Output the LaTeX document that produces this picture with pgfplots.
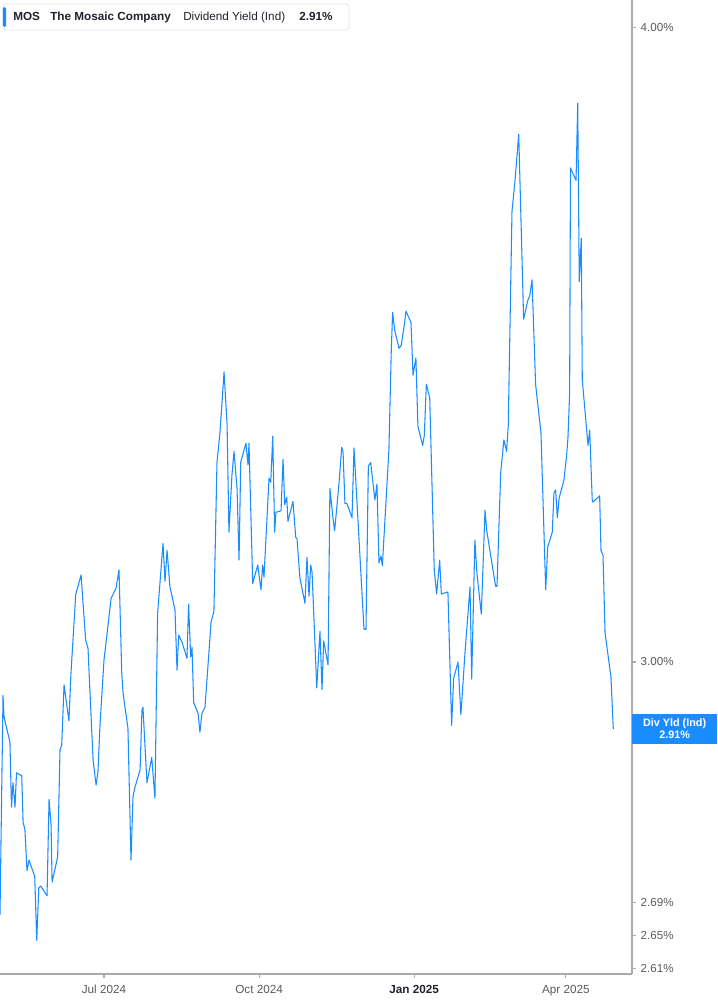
\documentclass[border=0pt]{standalone}
\usepackage{fontspec}
\setmainfont{Liberation Sans}
\usepackage{pgfplots}
\pgfplotsset{compat=1.18}
\definecolor{yld}{RGB}{25,140,255}
\definecolor{axgray}{RGB}{170,170,170}
\definecolor{lblgray}{RGB}{90,90,90}
\definecolor{txtdark}{RGB}{34,34,44}
\begin{document}
\begin{tikzpicture}
\path[use as bounding box] (0,-23.25pt) rectangle (537.75pt,730.5pt);
\begin{axis}[
  at={(0,0)}, anchor=south west,
  width=474pt, height=730.5pt, scale only axis,
  xmin=-61.7, xmax=313.2,
  ymode=log, ymin=2.604, ymax=4.051,
  axis x line*=bottom, axis y line*=right,
  axis line style={axgray, line width=0.9pt, -},
  xtick={0,92,184,274},
  xticklabels={Jul 2024, Oct 2024, \textbf{\color{txtdark}Jan 2025}, Apr 2025},
  ytick={2.61,2.65,2.69,3,4},
  yticklabels={2.61\%,2.65\%,2.69\%,3.00\%,4.00\%},
  yminorticks=false, xminorticks=false,
  tick align=outside, major tick length=3pt,
  tick style={axgray, line width=0.8pt},
  x tick label style={font=\fontsize{8.8}{10}\selectfont, text=lblgray, yshift=-2pt},
  y tick label style={font=\fontsize{8.7}{10}\selectfont, text=lblgray, anchor=west},
  clip=false,
]
% dividend yield (Ind), days from 1 Jul 2024
\addplot[yld, line width=0.8pt, line join=round] coordinates {
(-61.7,2.675) (-59.9,2.955) (-59.3,2.926) (-55.8,2.893) (-54.9,2.809)
(-54.0,2.840) (-52.8,2.809) (-51.9,2.853) (-48.8,2.849) (-48.0,2.790)
(-46.9,2.780) (-45.7,2.729) (-44.5,2.742) (-41.1,2.722) (-39.9,2.644)
(-38.7,2.708) (-37.5,2.710) (-33.8,2.698) (-32.6,2.819) (-31.4,2.786)
(-30.8,2.715) (-27.5,2.746) (-26.1,2.883) (-25.1,2.889) (-23.7,2.969)
(-20.8,2.921) (-19.6,2.985) (-16.8,3.093) (-13.6,3.121) (-10.9,3.030)
(-9.5,3.019) (-6.5,2.870) (-4.7,2.837) (-3.6,2.854) (-2.4,2.915)
(0,3.003) (2.4,3.051) (4.2,3.088) (7.1,3.102) (8.9,3.128)
(10.5,2.986) (11.3,2.958) (14.2,2.911) (16.0,2.742) (17.2,2.822)
(18.2,2.833) (21.4,2.857) (22.5,2.935) (23.1,2.939) (24.9,2.863)
(25.5,2.840) (28.3,2.873) (30.2,2.820) (31.8,3.067) (35.0,3.166)
(36.2,3.112) (37.4,3.156) (39.1,3.104) (42.1,3.072) (43.3,2.989)
(44.3,3.037) (46.3,3.027) (49.2,3.005) (50.2,3.080) (51.4,3.007)
(52.2,3.020) (53.2,2.945) (55.8,2.931) (56.9,2.906) (58.1,2.931)
(59.9,2.939) (61.7,2.996) (63.5,3.055) (65.2,3.070) (67.0,3.284)
(68.8,3.330) (71.2,3.422) (73.0,3.342) (74.1,3.182) (75.9,3.266)
(77.1,3.301) (78.9,3.246) (80.1,3.142) (81.1,3.285) (84.2,3.313)
(85.4,3.281) (86.0,3.313) (88.2,3.109) (91.2,3.135) (93.1,3.100)
(94.1,3.135) (94.9,3.118) (97.9,3.261) (98.9,3.255) (100.1,3.324)
(101.2,3.182) (102.0,3.211) (105.0,3.213) (106.2,3.289) (107.2,3.222)
(108.4,3.233) (109.1,3.198) (112.1,3.227) (113.7,3.175) (114.5,3.172)
(116.2,3.117) (119.2,3.081) (120.4,3.146) (121.6,3.091) (122.6,3.135)
(123.4,3.125) (126.2,2.965) (128.1,3.042) (129.3,2.963) (130.3,3.029)
(132.9,2.996) (134.0,3.246) (135.8,3.203) (136.8,3.184) (139.4,3.254)
(141.0,3.307) (141.8,3.300) (142.9,3.224) (144.1,3.224) (147.1,3.203)
(148.3,3.306) (154.2,3.045) (155.4,3.045) (156.8,3.279) (158.2,3.284)
(160.7,3.229) (161.9,3.252) (163.1,3.138) (164.3,3.148) (165.1,3.134)
(169.0,3.303) (170.4,3.456) (171.2,3.516) (172.4,3.488) (175.0,3.459)
(176.3,3.464) (178.3,3.499) (179.1,3.518) (182.1,3.500) (183.3,3.417)
(185.0,3.444) (186.2,3.339) (189.0,3.310) (190.0,3.325) (191.2,3.403)
(193.2,3.382) (195.9,3.128) (197.3,3.094) (199.1,3.142) (200.1,3.094)
(204.0,3.097) (206.2,2.915) (207.4,2.978) (210.0,3.000) (211.7,2.929)
(214.1,3.012) (217.1,3.104) (218.1,2.977) (220.0,3.171) (221.2,3.124)
(223.8,3.066) (226.0,3.214) (227.0,3.185) (228.3,3.165) (232.3,3.105)
(233.1,3.105) (235.3,3.269) (237.2,3.318) (238.8,3.301) (239.8,3.341)
(242.0,3.680) (243.8,3.733) (246.0,3.812) (248.9,3.505) (251.5,3.536)
(252.5,3.542) (253.9,3.568) (256.0,3.403) (259.2,3.329) (262.0,3.100)
(263.2,3.161) (265.9,3.182) (266.9,3.239) (267.9,3.244) (268.9,3.203)
(270.0,3.232) (272.8,3.258) (274.4,3.295) (275.2,3.321) (276.2,3.389)
(276.7,3.754) (280.0,3.733) (281.0,3.866) (281.9,3.565) (283.1,3.636)
(283.7,3.410) (287.1,3.310) (288.1,3.333) (289.6,3.229) (290.0,3.226)
(294.0,3.235) (294.8,3.156) (296.0,3.149) (297.2,3.040) (300.7,2.980)
(302.1,2.910)
};
% header box
\draw[draw=black!10, fill=white, rounded corners=2.5pt, line width=0.6pt]
  (rel axis cs:0.00475,0.99589) rectangle (rel axis cs:0.5522,0.9692);
\fill[yld, rounded corners=1pt]
  (rel axis cs:0.00475,0.99281) rectangle (rel axis cs:0.0095,0.97228);
\node[anchor=base west, inner sep=0, text=txtdark, font=\bfseries\fontsize{8.8}{10}\selectfont]
  at (rel axis cs:0.02057,0.97844) {MOS};
\node[anchor=base west, inner sep=0, text=txtdark, font=\bfseries\fontsize{8.8}{10}\selectfont]
  at (rel axis cs:0.07911,0.97844) {The Mosaic Company};
\node[anchor=base west, inner sep=0, text=txtdark, font=\fontsize{8.8}{10}\selectfont]
  at (rel axis cs:0.28956,0.97844) {Dividend Yield (Ind)};
\node[anchor=base west, inner sep=0, text=txtdark, font=\bfseries\fontsize{8.8}{10}\selectfont]
  at (rel axis cs:0.47310,0.97844) {2.91\%};
% last value tag
\node[anchor=west, fill=yld, text=white, inner sep=0, minimum width=63.5pt,
  minimum height=22.5pt, align=center,
  font=\bfseries\fontsize{8.1}{9}\selectfont]
  at (axis cs:313.2,2.91) {Div Yld (Ind)\\2.91\%};
\end{axis}
\end{tikzpicture}
\end{document}
